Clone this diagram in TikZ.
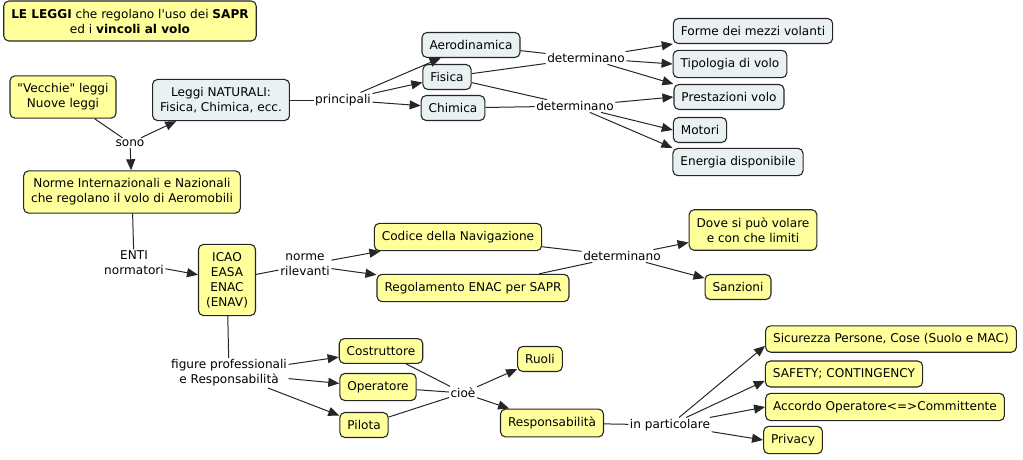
\documentclass[tikz,border=0pt]{standalone}
\usepackage{fontspec}
\setmainfont{DejaVu Sans}[Ligatures=TeXOff]
\usetikzlibrary{arrows.meta,calc}
\definecolor{cy}{HTML}{FFFF9C}
\definecolor{cb}{HTML}{E9F1F3}
\begin{document}
\begin{tikzpicture}[x=1pt,y=-1pt,
 box/.style={draw=black!85,rounded corners=5pt,line width=1.1pt,inner xsep=7.5pt,inner ysep=7.8pt,align=center,font=\fontsize{12.1}{15}\selectfont},
 ybox/.style={box,fill=cy},
 bbox/.style={box,fill=cb},
 lab/.style={inner sep=1.5pt,align=center,font=\fontsize{12.1}{15}\selectfont},
 con/.style={draw=black!85,line width=1pt},
 arr/.style={con,-{Triangle[length=11pt,width=9pt]}}]
\useasboundingbox (0,0) rectangle (1023,459);
% concepts
\node[ybox] (title) at (130,21) {\textbf{LE LEGGI} che regolano l'uso dei \textbf{SAPR}\\ed i \textbf{vincoli al volo}};
\node[ybox] (vec) at (63,97) {"Vecchie" leggi\\Nuove leggi};
\node[bbox] (nat) at (221,100) {Leggi NATURALI:\\Fisica, Chimica, ecc.};
\node[ybox] (norme) at (132,192) {Norme Internazionali e Nazionali\\che regolano il volo di Aeromobili};
\node[ybox] (icao) at (227,280) {ICAO\\EASA\\ENAC\\(ENAV)};
\node[bbox] (aero) at (471,45) {Aerodinamica};
\node[bbox] (fis) at (447,77) {Fisica};
\node[bbox] (chi) at (453,108) {Chimica};
\node[bbox] (forme) at (753,31) {Forme dei mezzi volanti};
\node[bbox] (tipo) at (730,64) {Tipologia di volo};
\node[bbox] (prest) at (729,97) {Prestazioni volo};
\node[bbox] (mot) at (700,130) {Motori};
\node[bbox] (ener) at (738,162) {Energia disponibile};
\node[ybox] (cod) at (458,237) {Codice della Navigazione};
\node[ybox] (reg) at (473,288) {Regolamento ENAC per SAPR};
\node[ybox] (dove) at (753,230) {Dove si può volare\\e con che limiti};
\node[ybox] (sanz) at (738,287) {Sanzioni};
\node[ybox] (cos) at (381,351) {Costruttore};
\node[ybox] (ope) at (378,387) {Operatore};
\node[ybox] (pil) at (364,425) {Pilota};
\node[ybox] (ruo) at (540,359) {Ruoli};
\node[ybox] (resp) at (552,423) {Responsabilità};
\node[ybox] (sic) at (891,339) {Sicurezza Persone, Cose (Suolo e MAC)};
\node[ybox] (saf) at (844,374) {SAFETY; CONTINGENCY};
\node[ybox] (acc) at (885,407) {Accordo Operatore<=>Committente};
\node[ybox] (priv) at (793,440) {Privacy};
% linking phrases
\node[lab] (sono) at (130,143) {sono};
\node[lab] (princ) at (343,100) {principali};
\node[lab] (det1) at (586,58) {determinano};
\node[lab] (det2) at (575,106) {determinano};
\node[lab] (enti) at (134,263) {ENTI\\normatori};
\node[lab] (nril) at (305,265) {norme\\rilevanti};
\node[lab] (det3) at (622,256) {determinano};
\node[lab] (fig) at (229,373) {figure professionali\\e Responsabilità};
\node[lab] (cioe) at (463,393) {cioè};
\node[lab] (inpart) at (670,425) {in particolare};
% connectors
\draw[con] (vec) -- (sono);
\draw[arr] (sono) -- (nat);
\draw[arr] (sono) -- (norme);
\draw[con] (nat) -- (princ);
\draw[arr] (princ) -- (aero);
\draw[arr] (princ) -- (fis);
\draw[arr] (princ) -- (chi);
\draw[con] (aero) -- (det1);
\draw[con] (fis) -- (det1);
\draw[arr] (det1) -- (forme.south west);
\draw[arr] (det1) -- (tipo.west);
\draw[arr] (det1) -- (prest.north west);
\draw[con] (fis) -- (det2);
\draw[con] (chi) -- (det2);
\draw[arr] (det2) -- (prest.west);
\draw[arr] (det2) -- (mot.west);
\draw[arr] (det2) -- (ener.north west);
\draw[con] (norme) -- (enti);
\draw[arr] (enti) -- (icao);
\draw[con] (icao) -- (nril);
\draw[arr] (nril) -- (cod);
\draw[arr] (nril) -- (reg);
\draw[con] (cod) -- (det3);
\draw[con] (reg) -- (det3);
\draw[arr] (det3) -- ($(dove.west)!0.6!(dove.south west)$);
\draw[arr] (det3) -- (sanz);
\draw[con] (icao) -- (fig);
\draw[arr] (fig) -- (cos);
\draw[arr] (fig) -- (ope);
\draw[arr] (fig) -- (pil);
\draw[con] (cos) -- (cioe);
\draw[con] (ope) -- (cioe);
\draw[con] (pil) -- (cioe);
\draw[arr] (cioe) -- (ruo);
\draw[arr] (cioe) -- (resp);
\draw[con] (resp) -- (inpart);
\draw[arr] (inpart) -- ($(sic.west)!0.5!(sic.south west)$);
\draw[arr] (inpart) -- ($(saf.west)!0.5!(saf.south west)$);
\draw[arr] (inpart) -- (acc.west);
\draw[arr] (inpart) -- (priv.west);
\end{tikzpicture}
\end{document}
